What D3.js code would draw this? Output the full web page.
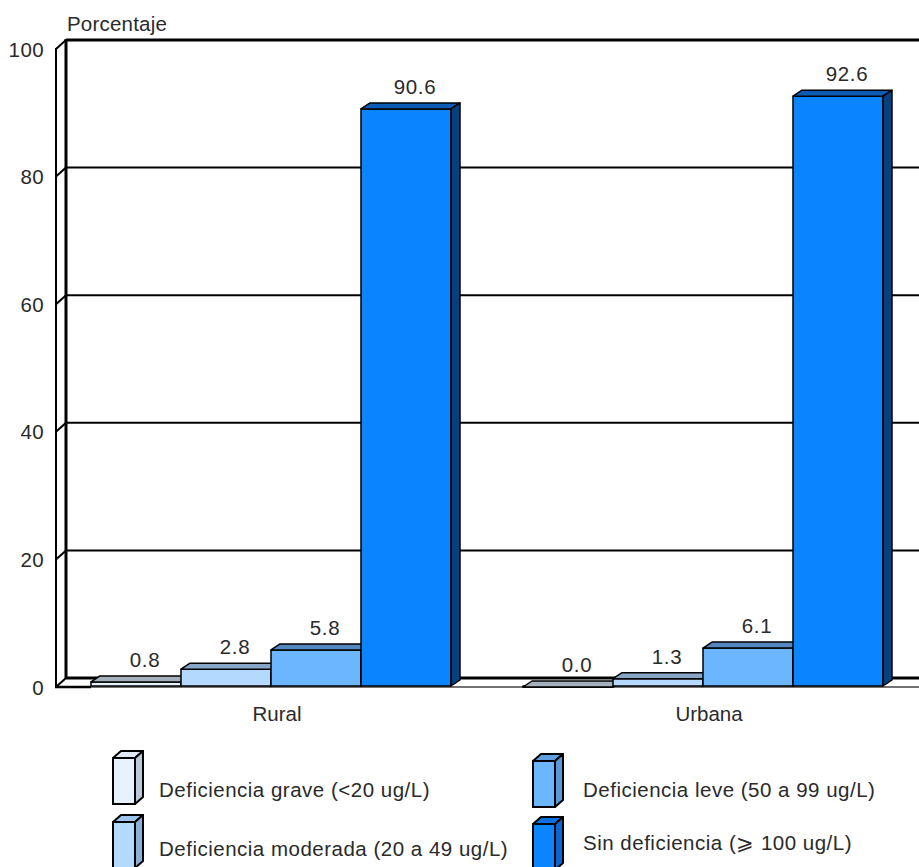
<!DOCTYPE html>
<html><head><meta charset="utf-8">
<script src="https://cdn.jsdelivr.net/npm/d3@7"></script>
<style>
html,body{margin:0;padding:0;background:#fff;}
text{font-family:"Liberation Sans",Arial,sans-serif;fill:#2a2a2a;}
</style></head>
<body>
<svg id="chart" width="919" height="867"></svg>
<script>
const categories = ["Rural", "Urbana"];
const seriesNames = ["Deficiencia grave (<20 ug/L)", "Deficiencia moderada (20 a 49 ug/L)", "Deficiencia leve (50 a 99 ug/L)", "Sin deficiencia (\u2A7E 100 ug/L)"];
const grave = [0.8, 0.0];
const moderada = [2.8, 1.3];
const leve = [5.8, 6.1];
const sinDef = [90.6, 92.6];
const yTicks = [0, 20, 40, 60, 80, 100];
const yTitle = "Porcentaje";

const values = [grave, moderada, leve, sinDef];
const frontCol = ["#e6f3ff", "#b4d9ff", "#6cb6ff", "#0b84ff"];
const topCol   = ["#a4b0bc", "#87a6c6", "#5287c0", "#0b5cb5"];
const sideCol  = ["#b3c3d3", "#89acd0", "#5a93cc", "#05417f"];
const legTop   = ["#dfe9f3", "#9cc4ec", "#5fa0e0", "#0a70e0"];
const legSide  = ["#b8c8d8", "#8ab0d8", "#5a98d8", "#0a66d0"];

const FS = 20.5;
const svg = d3.select("#chart");
const W = 919;
const wdx = 10, wdy = -9;
const bdx = 9, bdy = -6;

const yF = d3.scaleLinear().domain([0, 100]).range([687, 49]);
const yB = v => yF(v) + wdy;
const x0 = d3.scaleBand().domain(categories).range([56, 920]);
const x1 = d3.scaleBand().domain(d3.range(4)).range([35, 395]);

const g = svg.append("g");
g.append("path").attr("d", `M56,${yF(100)}L${56+wdx},${yB(100)}L${56+wdx},${yB(0)}L56,${yF(0)}Z`).attr("fill", "#fff");
yTicks.forEach(t => {
  if (t === 0) return;
  g.append("line").attr("x1", 56 + wdx).attr("x2", W + 20).attr("y1", yB(t)).attr("y2", yB(t))
    .attr("stroke", "#000").attr("stroke-width", t === 100 ? 3 : 2);
  g.append("line").attr("x1", 56).attr("x2", 56 + wdx).attr("y1", yF(t)).attr("y2", yB(t))
    .attr("stroke", "#000").attr("stroke-width", 2);
});
g.append("line").attr("x1", 56).attr("x2", 56).attr("y1", yF(100) - 1).attr("y2", yF(0)).attr("stroke", "#000").attr("stroke-width", 2);
g.append("line").attr("x1", 56 + wdx).attr("x2", 56 + wdx).attr("y1", yB(100) - 1).attr("y2", yB(0)).attr("stroke", "#000").attr("stroke-width", 3);
g.append("path").attr("d", `M56,${yF(0)}L${56+wdx},${yB(0)}L${W+20},${yB(0)}L${W+20},${yF(0)}Z`).attr("fill", "#fff");
g.append("line").attr("x1", 56 + wdx).attr("x2", W + 20).attr("y1", yB(0)).attr("y2", yB(0)).attr("stroke", "#000").attr("stroke-width", 3);
g.append("line").attr("x1", 56).attr("x2", 56 + wdx).attr("y1", yF(0)).attr("y2", yB(0)).attr("stroke", "#000").attr("stroke-width", 2);
g.append("line").attr("x1", 55).attr("x2", W + 20).attr("y1", yF(0)).attr("y2", yF(0)).attr("stroke", "#444").attr("stroke-width", 1.5);
g.append("line").attr("x1", 55).attr("x2", 91).attr("y1", yF(0)).attr("y2", yF(0)).attr("stroke", "#000").attr("stroke-width", 2.5);

const yAxis = d3.axisLeft(yF).tickValues(yTicks).tickSize(0).tickPadding(0).tickFormat(d3.format("d"));
const ya = svg.append("g").attr("transform", "translate(44,0)").call(yAxis);
ya.select(".domain").remove();
ya.selectAll("text").attr("font-size", FS).attr("fill", "#2a2a2a").attr("letter-spacing", 0.4)
  .style("font-family", '"Liberation Sans",Arial,sans-serif').attr("dy", "0.35em");

svg.append("text").attr("x", 67).attr("y", 31).attr("font-size", FS).attr("letter-spacing", 0.2).text(yTitle);

const bars = svg.append("g");
categories.forEach((c, ci) => {
  values.forEach((arr, si) => {
    const v = arr[ci];
    const xa = x0(c) + x1(si), xb = xa + x1.bandwidth();
    const yt = yF(v), yb = yF(0) - 1;
    const gg = bars.append("g");
    gg.append("path").attr("d", `M${xa},${yt}L${xb},${yt}L${xb},${yb}L${xa},${yb}Z`)
      .attr("fill", frontCol[si]).attr("stroke", "#000").attr("stroke-width", 1.5).attr("stroke-linejoin", "round");
    gg.append("path").attr("d", `M${xa},${yt}L${xa+bdx},${yt+bdy}L${xb+bdx},${yt+bdy}L${xb},${yt}Z`)
      .attr("fill", topCol[si]).attr("stroke", "#000").attr("stroke-width", 1.5).attr("stroke-linejoin", "round");
    gg.append("path").attr("d", `M${xb},${yt}L${xb+bdx},${yt+bdy}L${xb+bdx},${yb+bdy}L${xb},${yb}Z`)
      .attr("fill", sideCol[si]).attr("stroke", "#000").attr("stroke-width", 1.5).attr("stroke-linejoin", "round");
  });
});
categories.forEach((c, ci) => {
  values.forEach((arr, si) => {
    const v = arr[ci];
    const xc = x0(c) + x1(si) + x1.bandwidth() / 2 + 9;
    svg.append("text").attr("x", xc).attr("y", yF(v) - 15).attr("text-anchor", "middle")
      .attr("font-size", FS).attr("letter-spacing", 0.6).text(d3.format(".1f")(v));
  });
});

categories.forEach(c => {
  svg.append("text").attr("x", x0(c) + x0.bandwidth() / 2 + 5).attr("y", 721).attr("text-anchor", "middle")
    .attr("font-size", FS).text(c);
});

const legPos = [
  {x: 113, y: 758, tx: 159, ty: 797},
  {x: 113, y: 822, tx: 159, ty: 856},
  {x: 533, y: 761, tx: 583, ty: 797},
  {x: 533, y: 824, tx: 583, ty: 850}
];
const lw = 22, lh = 46, ldx = 8, ldy = -7;
seriesNames.forEach((name, i) => {
  const p = legPos[i];
  const lg = svg.append("g");
  lg.append("rect").attr("x", p.x).attr("y", p.y).attr("width", lw).attr("height", lh)
    .attr("fill", frontCol[i]).attr("stroke", "#000").attr("stroke-width", 2);
  lg.append("path").attr("d", `M${p.x},${p.y}L${p.x+ldx},${p.y+ldy}L${p.x+lw+ldx},${p.y+ldy}L${p.x+lw},${p.y}Z`)
    .attr("fill", legTop[i]).attr("stroke", "#000").attr("stroke-width", 2).attr("stroke-linejoin", "round");
  lg.append("path").attr("d", `M${p.x+lw},${p.y}L${p.x+lw+ldx},${p.y+ldy}L${p.x+lw+ldx},${p.y+lh+ldy}L${p.x+lw},${p.y+lh}Z`)
    .attr("fill", legSide[i]).attr("stroke", "#000").attr("stroke-width", 2).attr("stroke-linejoin", "round");
  lg.append("text").attr("x", p.tx).attr("y", p.ty).attr("font-size", FS).attr("letter-spacing", 0.5)
    .text(name);
});
</script>
</body></html>
